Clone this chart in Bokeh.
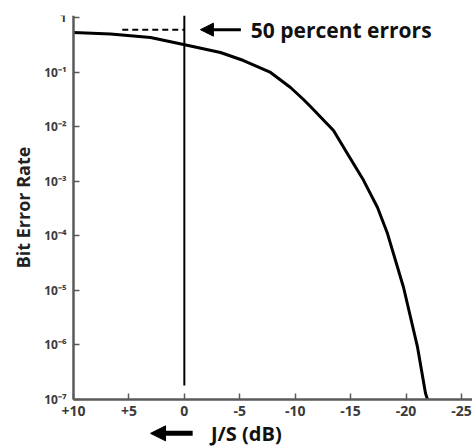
from bokeh.plotting import figure
from bokeh.models import Range1d, FixedTicker, CustomJSTickFormatter, Label, Arrow, NormalHead
from bokeh.embed import file_html
from bokeh.resources import INLINE

# data
js_db = [10, 6.66, 3.05, 0.07, -3.26, -5.34, -7.78, -9.58, -10.75, -11.38, -13.46,
         -14.72, -16.17, -17.43, -18.33, -19.78, -21.04, -21.76, -21.94]
ber = [0.531, 0.499, 0.430, 0.320, 0.229, 0.163, 0.0984, 0.0522, 0.0315, 0.0234, 8.5e-3,
       3.2e-3, 1.04e-3, 3.3e-4, 1.1e-4, 1.13e-5, 9.1e-7, 1.3e-7, 1.0e-7]
x_ticks = [10, 5, 0, -5, -10, -15, -20, -25]
x_tick_labels = ["+10", "+5", "0", "-5", "-10", "-15", "-20", "-25"]
y_ticks = [1, 1e-1, 1e-2, 1e-3, 1e-4, 1e-5, 1e-6, 1e-7]
y_tick_labels = ["1", "10\u207b\u00b9", "10\u207b\u00b2", "10\u207b\u00b3", "10\u207b\u2074",
                 "10\u207b\u2075", "10\u207b\u2076", "10\u207b\u2077"]
marker_x = [0, 0]
marker_y = [1.09, 1.8e-7]
fifty_x = [5.6, 0]
fifty_y = [0.6, 0.6]

FONT = "Open Sans"
AX = "#5a5a5a"
X_LEFT = 16.587
Y_BOTTOM = 10 ** -7.879
LABEL_Y = 10 ** -7.62

p = figure(width=472, height=447, y_axis_type="log",
           x_range=Range1d(X_LEFT, -26), y_range=Range1d(Y_BOTTOM, 1.09),
           output_backend="svg", toolbar_location=None,
           min_border_left=0, min_border_right=0, min_border_top=15, min_border_bottom=0)
p.outline_line_color = None
p.xgrid.visible = False
p.ygrid.visible = False
p.background_fill_color = "white"
p.border_fill_color = "white"

p.xaxis.fixed_location = 1e-7
p.xaxis.bounds = (10, -26)
p.yaxis.fixed_location = 10
p.yaxis.bounds = (1e-7, 1.09)

p.xaxis.ticker = FixedTicker(ticks=x_ticks)
p.xaxis.formatter = CustomJSTickFormatter(args=dict(t=x_ticks, l=x_tick_labels),
                                          code="const i = t.indexOf(Math.round(tick)); return i >= 0 ? l[i] : '';")
p.yaxis.ticker = FixedTicker(ticks=y_ticks)
p.yaxis.formatter = CustomJSTickFormatter(args=dict(l=y_tick_labels),
                                          code="return l[Math.round(-Math.log10(tick))];")
for ax in (p.xaxis[0], p.yaxis[0]):
    ax.axis_line_color = AX
    ax.axis_line_width = 2.5
    ax.major_tick_line_color = AX
    ax.major_tick_line_width = 1.5
    ax.major_tick_in = 6
    ax.major_tick_out = 0
    ax.minor_tick_line_color = None
    ax.major_label_text_font = FONT
    ax.major_label_text_color = "#3a3a3a"
    ax.major_label_text_font_style = "bold"

p.xaxis.major_label_text_font_size = "14px"
p.xaxis.major_label_standoff = 6
p.yaxis.major_label_text_font_size = "12px"
p.yaxis.major_label_standoff = 7
p.yaxis.axis_label = "Bit Error Rate"
p.yaxis.axis_label_text_font = FONT
p.yaxis.axis_label_text_font_style = "bold"
p.yaxis.axis_label_text_font_size = "18px"
p.yaxis.axis_label_text_color = "#222222"
p.yaxis.axis_label_standoff = 6

p.line(js_db, ber, line_color="black", line_width=3)
p.line(marker_x, marker_y, line_color="black", line_width=2)
p.line(fifty_x, fifty_y, line_color="black", line_width=2, line_dash="6 4")

p.add_layout(Arrow(end=NormalHead(size=13, fill_color="black", line_color="black"),
                   x_start=-5.1, y_start=0.6, x_end=-1.45, y_end=0.6,
                   line_color="black", line_width=3))
p.add_layout(Label(x=-6.0, y=0.6, text="50 percent errors", text_font=FONT,
                   text_font_style="bold", text_font_size="21px", text_baseline="middle",
                   text_color="#111111"))

p.add_layout(Arrow(end=NormalHead(size=15, fill_color="black", line_color="black"),
                   x_start=-0.75, y_start=LABEL_Y, x_end=3.05, y_end=LABEL_Y,
                   line_color="black", line_width=5))
p.add_layout(Label(x=-2.4, y=LABEL_Y, text="J/S (dB)", text_font=FONT,
                   text_font_style="bold", text_font_size="20px", text_baseline="middle",
                   text_color="#111111"))

open("out.html", "w").write(file_html(p, INLINE))
